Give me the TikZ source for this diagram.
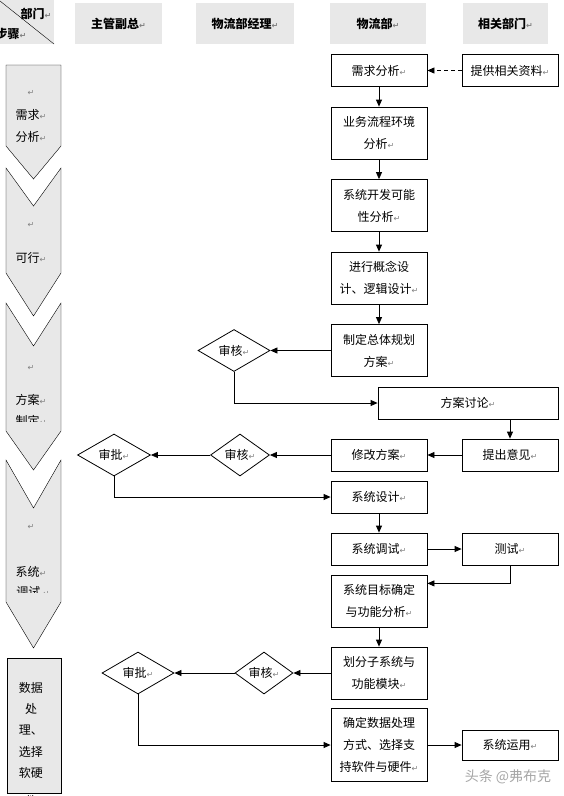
\documentclass[tikz,border=0pt]{standalone}
\usepackage{fontspec}
\setmainfont{Noto Sans CJK SC}
\newfontfamily\symf{DejaVu Sans}
\usetikzlibrary{arrows.meta,shapes.geometric}
\definecolor{hdgray}{HTML}{E8E8E8}
\newcommand{\retmark}{{\symf\color{gray}\fontsize{8}{8}\selectfont ↵}}

\begin{document}
\begin{tikzpicture}[x=1pt,y=-1pt,>={Triangle[length=7pt,width=6pt]},thick,
        box/.style={rectangle,draw,minimum width=96pt,minimum height=32pt,align=center,
          inner sep=2pt,font=\fontsize{12}{22}\selectfont},
        tallbox/.style={box,minimum height=52pt},
        decision/.style={diamond,draw,aspect=1.7,inner sep=0pt,minimum height=42pt,
          font=\fontsize{12}{14}\selectfont},
        hdr/.style={fill=hdgray,minimum height=41pt,inner sep=0pt,
          font=\bfseries\fontsize{12}{14}\selectfont},
        steptext/.style={inner sep=0pt,font=\fontsize{12}{14}\selectfont}]
        \useasboundingbox (0,0) rectangle (563,796);
        % header
        \fill[hdgray] (0,0) rectangle (54,44);
        \draw[thin] (0,1) -- (54,44);
        \node[steptext,font=\bfseries\fontsize{12}{14}\selectfont] (dept) at (36,14) {部门\retmark};
        \node[steptext,font=\bfseries\fontsize{12}{14}\selectfont] (steps) at (11,34) {步骤\retmark};
        \node[hdr,minimum width=87pt] (vp) at (118.5,23.5) {主管副总\retmark};
        \node[hdr,minimum width=98pt] (mgr) at (245,23.5) {物流部经理\retmark};
        \node[hdr,minimum width=96pt] (logi) at (378,23.5) {物流部\retmark};
        \node[hdr,minimum width=85pt] (rel) at (505.5,23.5) {相关部门\retmark};
        % steps column
        \foreach \t/\n/\s/\p in {65/65/146/179, 168/206/273/316, 303/346/431/470, 460/508/602/648}
          \draw[thin,fill=hdgray] (6,\t) -- (33.5,\n) -- (61,\t) -- (61,\s) -- (33.5,\p) -- (6,\s) -- cycle;
        \draw[thin,fill=hdgray] (7,658) rectangle (61,793);
        \foreach \y/\txt [count=\i] in {93/\retmark, 115/需求\retmark, 137/分析\retmark,
            225/\retmark, 258/可行\retmark, 368/\retmark, 400/方案\retmark,
            527/\retmark, 572/系统\retmark, 688/数据, 709/处, 730/理、, 752/选择, 773/软硬, 801/件}
          \node[steptext] (s\i) at (31,\y) {\txt};
        \begin{scope}
          \clip (6,300) rectangle (61,421);
          \node[steptext] (s16) at (31,420.5) {制定\retmark};
        \end{scope}
        \begin{scope}
          \clip (6,460) rectangle (61,592);
          \node[steptext] (s17) at (33,591.5) {调试~\retmark};
        \end{scope}
        % logistics column
        \node[box] (req) at (379,70.5) {需求分析\retmark};
        \node[tallbox, below of=req, node distance=62.5pt] (flow) {业务流程环境\\分析\retmark};
        \node[tallbox, below of=flow, node distance=72.5pt] (feas) {系统开发可能\\性分析\retmark};
        \node[tallbox, below of=feas, node distance=72.5pt] (concept) {进行概念设\\计、逻辑设计\retmark};
        \node[tallbox, below of=concept, node distance=72.5pt] (plan) {制定总体规划\\方案\retmark};
        \node[box, minimum width=180pt] (discuss) at (468,403) {方案讨论\retmark};
        \node[box, below of=plan, node distance=104.5pt] (revise) {修改方案\retmark};
        \node[box, below of=revise, node distance=42pt] (sysdes) {系统设计\retmark};
        \node[box, below of=sysdes, node distance=52pt] (debug) {系统调试\retmark};
        \node[tallbox, below of=debug, node distance=52pt] (goal) {系统目标确定\\与功能分析\retmark};
        \node[tallbox, below of=goal, node distance=72pt] (subsys) {划分子系统与\\功能模块\retmark};
        \node[box, minimum height=73pt, below of=subsys, node distance=72pt] (data) {确定数据处理\\方式、选择支\\持软件与硬件\retmark};
        % related departments
        \node[box, right of=req, node distance=131pt] (info) {提供相关资料\retmark};
        \node[box, right of=revise, node distance=131pt] (opinion) {提出意见\retmark};
        \node[box, right of=debug, node distance=131pt] (test) {测试\retmark};
        \node[box, minimum height=30pt, right of=data, node distance=131pt] (use) {系统运用\retmark};
        % checks and approvals
        \node[decision, minimum width=72pt, left of=plan, node distance=145pt] (chk1) {审核\retmark};
        \node[decision, minimum width=59pt, left of=revise, node distance=139pt] (chk2) {审核\retmark};
        \node[decision, minimum width=73pt, left of=chk2, node distance=126pt] (appr1) {审批\retmark};
        \node[decision, minimum width=58pt, left of=subsys, node distance=115pt] (chk3) {审核\retmark};
        \node[decision, minimum width=72pt, left of=chk3, node distance=126pt] (appr2) {审批\retmark};
        \node[text=gray!70, font=\fontsize{14}{14}\selectfont] (mark) at (508,777) {头条 @弗布克};
        \path[->]
        (req) edge (flow)
        (flow) edge (feas)
        (feas) edge (concept)
        (concept) edge (plan)
        (plan) edge (chk1)
        (opinion) edge (revise)
        (revise) edge (chk2)
        (chk2) edge (appr1)
        (sysdes) edge (debug)
        (debug) edge (test)
        (goal) edge (subsys)
        (subsys) edge (chk3)
        (chk3) edge (appr2)
        (data) edge (use)
        ;
        \draw[->, dash pattern=on 4pt off 3pt] (info) -- (req);
        \draw[->] (chk1.south) |- (discuss.west);
        \draw[->] (discuss.south -| opinion) -- (opinion.north);
        \draw[->] (appr1.south) |- (sysdes.west);
        \draw[->] (test.south) |- (goal.20);
        \draw[->] (appr2.south) |- (data.west);
\end{tikzpicture}
\end{document}
